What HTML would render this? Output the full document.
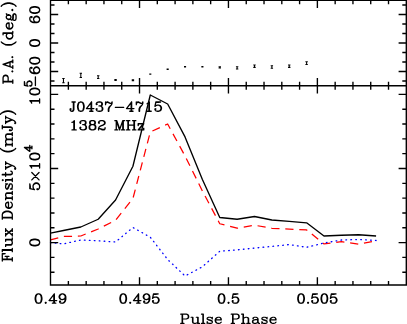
<!DOCTYPE html>
<html><head><meta charset="utf-8"><title>plot</title>
<style>html,body{margin:0;padding:0;background:#fff;overflow:hidden}body{width:407px;height:324px;font-family:"Liberation Serif",serif}</style></head>
<body>
<svg width="407" height="324" viewBox="0 0 407 324" style="display:block">
<title>J0437-4715 1382 MHz pulse profile</title>
<rect width="407" height="324" fill="#fff"/>
<g fill="none" stroke-linejoin="round">
<polyline points="50.50,233.11 63.45,230.50 80.82,227.00 98.19,219.25 115.56,200.00 132.93,166.25 150.29,95.00 167.66,104.00 185.03,136.90 202.40,179.50 219.77,217.50 237.13,219.25 254.50,216.50 271.87,220.00 289.24,221.40 306.61,222.80 323.97,236.00 341.34,235.25 358.71,234.75 376.08,236.00" stroke="#000" stroke-width="1.35"/>
<polyline points="50.50,239.86 63.45,236.50 80.82,236.00 98.19,229.00 115.56,220.20 132.93,198.50 150.29,132.00 167.66,124.00 185.03,156.00 202.40,191.00 219.77,223.75 237.13,228.20 254.50,225.20 271.87,228.30 289.24,229.20 306.61,229.90 323.97,243.90 341.34,241.70 358.71,244.10 376.08,240.75" stroke="#f00" stroke-width="1.25" stroke-dasharray="8.2 5.8" stroke-dashoffset="0.2"/>
<polyline points="50.50,242.71 63.45,243.90 80.82,240.00 98.19,240.80 115.56,242.00 132.93,227.50 150.29,237.20 167.66,259.50 185.03,276.00 202.40,266.80 219.77,251.20 237.13,249.90 254.50,248.10 271.87,246.40 289.24,244.60 306.61,247.30 323.97,243.00 341.34,240.00 358.71,239.50 376.08,240.50" stroke="#00f" stroke-width="1.3" stroke-linecap="round" stroke-dasharray="0.7 4.24" stroke-dashoffset="0.2"/>
</g>
<path d="M63.45 78.50V82.70 M62.25 78.50h2.4 M62.25 82.70h2.4 M80.82 73.30V77.40 M79.62 73.30h2.4 M79.62 77.40h2.4 M98.19 75.70V78.40 M96.99 75.70h2.4 M96.99 78.40h2.4 M115.56 79.50V80.50 M114.36 79.50h2.4 M114.36 80.50h2.4 M132.93 79.80V80.80 M131.73 79.80h2.4 M131.73 80.80h2.4 M150.29 73.95V74.25 M149.24 73.95h2.1 M149.24 74.25h2.1 M167.66 68.95V69.35 M166.61 68.95h2.1 M166.61 69.35h2.1 M185.03 66.40V67.00 M183.98 66.40h2.1 M183.98 67.00h2.1 M202.40 66.40V67.00 M201.35 66.40h2.1 M201.35 67.00h2.1 M219.77 66.80V68.00 M218.57 66.80h2.4 M218.57 68.00h2.4 M237.13 66.70V68.90 M235.93 66.70h2.4 M235.93 68.90h2.4 M254.50 65.05V67.35 M253.30 65.05h2.4 M253.30 67.35h2.4 M271.87 65.75V68.25 M270.67 65.75h2.4 M270.67 68.25h2.4 M289.24 65.05V67.35 M288.04 65.05h2.4 M288.04 67.35h2.4 M306.61 61.65V64.55 M305.41 61.65h2.4 M305.41 64.55h2.4" stroke="#000" stroke-width="1.05" fill="none"/>
<g stroke="#000" stroke-width="1.37" fill="none" stroke-linecap="butt">
<path d="M50.5 0.2H406.3V284.95H50.5Z M50.5 85.8H406.3"/>
<path d="M68.38 0.2v4.0 M68.38 81.8v8.0 M68.38 284.95v-4.0 M86.17 0.2v4.0 M86.17 81.8v8.0 M86.17 284.95v-4.0 M103.95 0.2v4.0 M103.95 81.8v8.0 M103.95 284.95v-4.0 M121.74 0.2v4.0 M121.74 81.8v8.0 M121.74 284.95v-4.0 M139.52 0.2v7.7 M139.52 78.1v15.4 M139.52 284.95v-7.7 M157.31 0.2v4.0 M157.31 81.8v8.0 M157.31 284.95v-4.0 M175.09 0.2v4.0 M175.09 81.8v8.0 M175.09 284.95v-4.0 M192.88 0.2v4.0 M192.88 81.8v8.0 M192.88 284.95v-4.0 M210.66 0.2v4.0 M210.66 81.8v8.0 M210.66 284.95v-4.0 M228.45 0.2v7.7 M228.45 78.1v15.4 M228.45 284.95v-7.7 M246.24 0.2v4.0 M246.24 81.8v8.0 M246.24 284.95v-4.0 M264.02 0.2v4.0 M264.02 81.8v8.0 M264.02 284.95v-4.0 M281.81 0.2v4.0 M281.81 81.8v8.0 M281.81 284.95v-4.0 M299.59 0.2v4.0 M299.59 81.8v8.0 M299.59 284.95v-4.0 M317.38 0.2v7.7 M317.38 78.1v15.4 M317.38 284.95v-7.7 M335.16 0.2v4.0 M335.16 81.8v8.0 M335.16 284.95v-4.0 M352.95 0.2v4.0 M352.95 81.8v8.0 M352.95 284.95v-4.0 M370.73 0.2v4.0 M370.73 81.8v8.0 M370.73 284.95v-4.0 M388.52 0.2v4.0 M388.52 81.8v8.0 M388.52 284.95v-4.0 M50.5 81.00h4.0 M406.3 81.00h-4.0 M50.5 71.50h7.7 M406.3 71.50h-7.7 M50.5 62.00h4.0 M406.3 62.00h-4.0 M50.5 52.50h4.0 M406.3 52.50h-4.0 M50.5 43.00h7.7 M406.3 43.00h-7.7 M50.5 33.50h4.0 M406.3 33.50h-4.0 M50.5 24.00h4.0 M406.3 24.00h-4.0 M50.5 14.50h7.7 M406.3 14.50h-7.7 M50.5 5.00h4.0 M406.3 5.00h-4.0 M50.5 272.24h4.0 M406.3 272.24h-4.0 M50.5 257.42h4.0 M406.3 257.42h-4.0 M50.5 242.60h7.7 M406.3 242.60h-7.7 M50.5 227.78h4.0 M406.3 227.78h-4.0 M50.5 212.96h4.0 M406.3 212.96h-4.0 M50.5 198.14h4.0 M406.3 198.14h-4.0 M50.5 183.32h4.0 M406.3 183.32h-4.0 M50.5 168.50h7.7 M406.3 168.50h-7.7 M50.5 153.68h4.0 M406.3 153.68h-4.0 M50.5 138.86h4.0 M406.3 138.86h-4.0 M50.5 124.04h4.0 M406.3 124.04h-4.0 M50.5 109.22h4.0 M406.3 109.22h-4.0 M50.5 94.40h7.7 M406.3 94.40h-7.7"/>
</g>
<g stroke="#000" fill="none" stroke-linecap="round" stroke-linejoin="round">
<g role="img" aria-label="0.49"><title>0.49</title><path d="M38.07 293.96L36.64 294.4L35.68 295.72L35.2 297.92L35.2 299.24L35.68 301.44L36.64 302.76L38.07 303.2L39.03 303.2L40.46 302.76L41.42 301.44L41.9 299.24L41.9 297.92L41.42 295.72L40.46 294.4L39.03 293.96L38.07 293.96M38.07 293.96L37.12 294.4L36.64 294.84L36.16 295.72L35.68 297.92L35.68 299.24L36.16 301.44L36.64 302.32L37.12 302.76L38.07 303.2M39.03 303.2L39.98 302.76L40.46 302.32L40.94 301.44L41.42 299.24L41.42 297.92L40.94 295.72L40.46 294.84L39.98 294.4L39.03 293.96M45.72 302.32L45.24 302.76L45.72 303.2L46.2 302.76L45.72 302.32M53.85 294.84L53.85 303.2M54.32 293.96L54.32 303.2M54.32 293.96L49.07 300.56L56.71 300.56M52.41 303.2L55.76 303.2M65.32 297.04L64.84 298.36L63.88 299.24L62.45 299.68L61.97 299.68L60.54 299.24L59.58 298.36L59.1 297.04L59.1 296.6L59.58 295.28L60.54 294.4L61.97 293.96L62.93 293.96L64.36 294.4L65.32 295.28L65.8 296.6L65.8 299.24L65.32 301L64.84 301.88L63.88 302.76L62.45 303.2L61.02 303.2L60.06 302.76L59.58 301.88L59.58 301.44L60.06 301L60.54 301.44L60.06 301.88M61.97 299.68L61.02 299.24L60.06 298.36L59.58 297.04L59.58 296.6L60.06 295.28L61.02 294.4L61.97 293.96M62.93 293.96L63.88 294.4L64.84 295.28L65.32 296.6L65.32 299.24L64.84 301L64.36 301.88L63.41 302.76L62.45 303.2" stroke-width="1.3"/></g>
<g role="img" aria-label="0.495"><title>0.495</title><path d="M122.75 293.96L121.35 294.4L120.42 295.72L119.95 297.92L119.95 299.24L120.42 301.44L121.35 302.76L122.75 303.2L123.68 303.2L125.08 302.76L126.01 301.44L126.48 299.24L126.48 297.92L126.01 295.72L125.08 294.4L123.68 293.96L122.75 293.96M122.75 293.96L121.82 294.4L121.35 294.84L120.88 295.72L120.42 297.92L120.42 299.24L120.88 301.44L121.35 302.32L121.82 302.76L122.75 303.2M123.68 303.2L124.61 302.76L125.08 302.32L125.54 301.44L126.01 299.24L126.01 297.92L125.54 295.72L125.08 294.84L124.61 294.4L123.68 293.96M130.2 302.32L129.74 302.76L130.2 303.2L130.67 302.76L130.2 302.32M138.13 294.84L138.13 303.2M138.59 293.96L138.59 303.2M138.59 293.96L133.47 300.56L140.92 300.56M136.73 303.2L139.99 303.2M149.31 297.04L148.84 298.36L147.91 299.24L146.51 299.68L146.05 299.68L144.65 299.24L143.72 298.36L143.25 297.04L143.25 296.6L143.72 295.28L144.65 294.4L146.05 293.96L146.98 293.96L148.38 294.4L149.31 295.28L149.78 296.6L149.78 299.24L149.31 301L148.84 301.88L147.91 302.76L146.51 303.2L145.12 303.2L144.18 302.76L143.72 301.88L143.72 301.44L144.18 301L144.65 301.44L144.18 301.88M146.05 299.68L145.12 299.24L144.18 298.36L143.72 297.04L143.72 296.6L144.18 295.28L145.12 294.4L146.05 293.96M146.98 293.96L147.91 294.4L148.84 295.28L149.31 296.6L149.31 299.24L148.84 301L148.38 301.88L147.45 302.76L146.51 303.2M153.5 293.96L152.57 298.36M152.57 298.36L153.5 297.48L154.9 297.04L156.3 297.04L157.7 297.48L158.63 298.36L159.1 299.68L159.1 300.56L158.63 301.88L157.7 302.76L156.3 303.2L154.9 303.2L153.5 302.76L153.04 302.32L152.57 301.44L152.57 301L153.04 300.56L153.5 301L153.04 301.44M156.3 297.04L157.23 297.48L158.16 298.36L158.63 299.68L158.63 300.56L158.16 301.88L157.23 302.76L156.3 303.2M153.5 293.96L158.16 293.96M153.5 294.4L155.83 294.4L158.16 293.96" stroke-width="1.3"/></g>
<g role="img" aria-label="0.5"><title>0.5</title><path d="M221.09 293.96L219.7 294.4L218.76 295.72L218.3 297.92L218.3 299.24L218.76 301.44L219.7 302.76L221.09 303.2L222.03 303.2L223.42 302.76L224.36 301.44L224.82 299.24L224.82 297.92L224.36 295.72L223.42 294.4L222.03 293.96L221.09 293.96M221.09 293.96L220.16 294.4L219.7 294.84L219.23 295.72L218.76 297.92L218.76 299.24L219.23 301.44L219.7 302.32L220.16 302.76L221.09 303.2M222.03 303.2L222.96 302.76L223.42 302.32L223.89 301.44L224.36 299.24L224.36 297.92L223.89 295.72L223.42 294.84L222.96 294.4L222.03 293.96M228.55 302.32L228.08 302.76L228.55 303.2L229.02 302.76L228.55 302.32M233.21 293.96L232.28 298.36M232.28 298.36L233.21 297.48L234.61 297.04L236.01 297.04L237.4 297.48L238.34 298.36L238.8 299.68L238.8 300.56L238.34 301.88L237.4 302.76L236.01 303.2L234.61 303.2L233.21 302.76L232.74 302.32L232.28 301.44L232.28 301L232.74 300.56L233.21 301L232.74 301.44M236.01 297.04L236.94 297.48L237.87 298.36L238.34 299.68L238.34 300.56L237.87 301.88L236.94 302.76L236.01 303.2M233.21 293.96L237.87 293.96M233.21 294.4L235.54 294.4L237.87 293.96" stroke-width="1.3"/></g>
<g role="img" aria-label="0.505"><title>0.505</title><path d="M300.6 293.96L299.2 294.4L298.27 295.72L297.8 297.92L297.8 299.24L298.27 301.44L299.2 302.76L300.6 303.2L301.53 303.2L302.93 302.76L303.86 301.44L304.33 299.24L304.33 297.92L303.86 295.72L302.93 294.4L301.53 293.96L300.6 293.96M300.6 293.96L299.67 294.4L299.2 294.84L298.74 295.72L298.27 297.92L298.27 299.24L298.74 301.44L299.2 302.32L299.67 302.76L300.6 303.2M301.53 303.2L302.46 302.76L302.93 302.32L303.4 301.44L303.86 299.24L303.86 297.92L303.4 295.72L302.93 294.84L302.46 294.4L301.53 293.96M308.06 302.32L307.59 302.76L308.06 303.2L308.52 302.76L308.06 302.32M312.72 293.96L311.78 298.36M311.78 298.36L312.72 297.48L314.11 297.04L315.51 297.04L316.91 297.48L317.84 298.36L318.31 299.68L318.31 300.56L317.84 301.88L316.91 302.76L315.51 303.2L314.11 303.2L312.72 302.76L312.25 302.32L311.78 301.44L311.78 301L312.25 300.56L312.72 301L312.25 301.44M315.51 297.04L316.44 297.48L317.38 298.36L317.84 299.68L317.84 300.56L317.38 301.88L316.44 302.76L315.51 303.2M312.72 293.96L317.38 293.96M312.72 294.4L315.05 294.4L317.38 293.96M323.9 293.96L322.5 294.4L321.57 295.72L321.1 297.92L321.1 299.24L321.57 301.44L322.5 302.76L323.9 303.2L324.83 303.2L326.23 302.76L327.16 301.44L327.63 299.24L327.63 297.92L327.16 295.72L326.23 294.4L324.83 293.96L323.9 293.96M323.9 293.96L322.97 294.4L322.5 294.84L322.04 295.72L321.57 297.92L321.57 299.24L322.04 301.44L322.5 302.32L322.97 302.76L323.9 303.2M324.83 303.2L325.76 302.76L326.23 302.32L326.7 301.44L327.16 299.24L327.16 297.92L326.7 295.72L326.23 294.84L325.76 294.4L324.83 293.96M331.36 293.96L330.42 298.36M330.42 298.36L331.36 297.48L332.75 297.04L334.15 297.04L335.55 297.48L336.48 298.36L336.95 299.68L336.95 300.56L336.48 301.88L335.55 302.76L334.15 303.2L332.75 303.2L331.36 302.76L330.89 302.32L330.42 301.44L330.42 301L330.89 300.56L331.36 301L330.89 301.44M334.15 297.04L335.08 297.48L336.02 298.36L336.48 299.68L336.48 300.56L336.02 301.88L335.08 302.76L334.15 303.2M331.36 293.96L336.02 293.96M331.36 294.4L333.69 294.4L336.02 293.96" stroke-width="1.3"/></g>
<g role="img" aria-label="Pulse Phase"><title>Pulse Phase</title><path d="M182.11 314.16L182.11 323.4M182.58 314.16L182.58 323.4M180.69 314.16L186.36 314.16L187.77 314.6L188.24 315.04L188.72 315.92L188.72 317.24L188.24 318.12L187.77 318.56L186.36 319L182.58 319M186.36 314.16L187.3 314.6L187.77 315.04L188.24 315.92L188.24 317.24L187.77 318.12L187.3 318.56L186.36 319M180.69 323.4L184 323.4M192.49 317.24L192.49 322.08L192.96 322.96L194.38 323.4L195.32 323.4L196.74 322.96L197.68 322.08M192.96 317.24L192.96 322.08L193.44 322.96L194.38 323.4M197.68 317.24L197.68 323.4M198.16 317.24L198.16 323.4M191.08 317.24L192.96 317.24M196.27 317.24L198.16 317.24M197.68 323.4L199.57 323.4M202.88 314.16L202.88 323.4M203.35 314.16L203.35 323.4M201.46 314.16L203.35 314.16M201.46 323.4L204.76 323.4M211.84 318.12L212.32 317.24L212.32 319L211.84 318.12L211.37 317.68L210.43 317.24L208.54 317.24L207.6 317.68L207.12 318.12L207.12 319L207.6 319.44L208.54 319.88L210.9 320.76L211.84 321.2L212.32 321.64M207.12 318.56L207.6 319L208.54 319.44L210.9 320.32L211.84 320.76L212.32 321.2L212.32 322.52L211.84 322.96L210.9 323.4L209.01 323.4L208.07 322.96L207.6 322.52L207.12 321.64L207.12 323.4L207.6 322.52M215.62 319.88L221.28 319.88L221.28 319L220.81 318.12L220.34 317.68L219.4 317.24L217.98 317.24L216.56 317.68L215.62 318.56L215.15 319.88L215.15 320.76L215.62 322.08L216.56 322.96L217.98 323.4L218.92 323.4L220.34 322.96L221.28 322.08M220.81 319.88L220.81 318.56L220.34 317.68M217.98 317.24L217.04 317.68L216.09 318.56L215.62 319.88L215.62 320.76L216.09 322.08L217.04 322.96L217.98 323.4M232.61 314.16L232.61 323.4M233.08 314.16L233.08 323.4M231.2 314.16L236.86 314.16L238.28 314.6L238.75 315.04L239.22 315.92L239.22 317.24L238.75 318.12L238.28 318.56L236.86 319L233.08 319M236.86 314.16L237.8 314.6L238.28 315.04L238.75 315.92L238.75 317.24L238.28 318.12L237.8 318.56L236.86 319M231.2 323.4L234.5 323.4M243 314.16L243 323.4M243.47 314.16L243.47 323.4M243.47 318.56L244.41 317.68L245.83 317.24L246.77 317.24L248.19 317.68L248.66 318.56L248.66 323.4M246.77 317.24L247.72 317.68L248.19 318.56L248.19 323.4M241.58 314.16L243.47 314.16M241.58 323.4L244.88 323.4M246.77 323.4L250.08 323.4M253.38 318.12L253.38 318.56L252.91 318.56L252.91 318.12L253.38 317.68L254.32 317.24L256.21 317.24L257.16 317.68L257.63 318.12L258.1 319L258.1 322.08L258.57 322.96L259.04 323.4M257.63 318.12L257.63 322.08L258.1 322.96L259.04 323.4L259.52 323.4M257.63 319L257.16 319.44L254.32 319.88L252.91 320.32L252.44 321.2L252.44 322.08L252.91 322.96L254.32 323.4L255.74 323.4L256.68 322.96L257.63 322.08M254.32 319.88L253.38 320.32L252.91 321.2L252.91 322.08L253.38 322.96L254.32 323.4M266.6 318.12L267.07 317.24L267.07 319L266.6 318.12L266.12 317.68L265.18 317.24L263.29 317.24L262.35 317.68L261.88 318.12L261.88 319L262.35 319.44L263.29 319.88L265.65 320.76L266.6 321.2L267.07 321.64M261.88 318.56L262.35 319L263.29 319.44L265.65 320.32L266.6 320.76L267.07 321.2L267.07 322.52L266.6 322.96L265.65 323.4L263.76 323.4L262.82 322.96L262.35 322.52L261.88 321.64L261.88 323.4L262.35 322.52M270.37 319.88L276.04 319.88L276.04 319L275.56 318.12L275.09 317.68L274.15 317.24L272.73 317.24L271.32 317.68L270.37 318.56L269.9 319.88L269.9 320.76L270.37 322.08L271.32 322.96L272.73 323.4L273.68 323.4L275.09 322.96L276.04 322.08M275.56 319.88L275.56 318.56L275.09 317.68M272.73 317.24L271.79 317.68L270.84 318.56L270.37 319.88L270.37 320.76L270.84 322.08L271.79 322.96L272.73 323.4" stroke-width="1.15"/></g>
<g role="img" aria-label="J0437−4715"><title>J0437−4715</title><path d="M73.86 102.01L73.86 109.49L73.39 110.81L72.46 111.25L71.53 111.25L70.6 110.81L70.13 109.93L70.13 109.05L70.6 108.61L71.06 109.05L70.6 109.49M73.39 102.01L73.39 109.49L72.93 110.81L72.46 111.25M72 102.01L75.26 102.01M80.38 102.01L78.99 102.45L78.05 103.77L77.59 105.97L77.59 107.29L78.05 109.49L78.99 110.81L80.38 111.25L81.32 111.25L82.71 110.81L83.65 109.49L84.11 107.29L84.11 105.97L83.65 103.77L82.71 102.45L81.32 102.01L80.38 102.01M80.38 102.01L79.45 102.45L78.99 102.89L78.52 103.77L78.05 105.97L78.05 107.29L78.52 109.49L78.99 110.37L79.45 110.81L80.38 111.25M81.32 111.25L82.25 110.81L82.71 110.37L83.18 109.49L83.65 107.29L83.65 105.97L83.18 103.77L82.71 102.89L82.25 102.45L81.32 102.01M91.1 102.89L91.1 111.25M91.57 102.01L91.57 111.25M91.57 102.01L86.44 108.61L93.9 108.61M89.7 111.25L92.97 111.25M96.69 103.77L97.16 104.21L96.69 104.65L96.23 104.21L96.23 103.77L96.69 102.89L97.16 102.45L98.56 102.01L100.42 102.01L101.82 102.45L102.29 103.33L102.29 104.65L101.82 105.53L100.42 105.97L99.02 105.97M100.42 102.01L101.35 102.45L101.82 103.33L101.82 104.65L101.35 105.53L100.42 105.97M100.42 105.97L101.35 106.41L102.29 107.29L102.75 108.17L102.75 109.49L102.29 110.37L101.82 110.81L100.42 111.25L98.56 111.25L97.16 110.81L96.69 110.37L96.23 109.49L96.23 109.05L96.69 108.61L97.16 109.05L96.69 109.49M101.82 106.85L102.29 108.17L102.29 109.49L101.82 110.37L101.35 110.81L100.42 111.25M105.55 102.01L105.55 104.65M105.55 103.77L106.01 102.89L106.95 102.01L107.88 102.01L110.21 103.33L111.14 103.33L111.61 102.89L112.07 102.01M106.01 102.89L106.95 102.45L107.88 102.45L110.21 103.33M112.07 102.01L112.07 103.33L111.61 104.65L109.74 106.85L109.28 107.73L108.81 109.05L108.81 111.25M111.61 104.65L109.28 106.85L108.81 107.73L108.34 109.05L108.34 111.25M115.33 107.29L123.72 107.29M131.18 102.89L131.18 111.25M131.64 102.01L131.64 111.25M131.64 102.01L126.52 108.61L133.97 108.61M129.78 111.25L133.04 111.25M136.3 102.01L136.3 104.65M136.3 103.77L136.77 102.89L137.7 102.01L138.63 102.01L140.96 103.33L141.9 103.33L142.36 102.89L142.83 102.01M136.77 102.89L137.7 102.45L138.63 102.45L140.96 103.33M142.83 102.01L142.83 103.33L142.36 104.65L140.5 106.85L140.03 107.73L139.57 109.05L139.57 111.25M142.36 104.65L140.03 106.85L139.57 107.73L139.1 109.05L139.1 111.25M147.02 103.77L147.95 103.33L149.35 102.01L149.35 111.25M148.89 102.45L148.89 111.25M147.02 111.25L151.22 111.25M155.88 102.01L154.94 106.41M154.94 106.41L155.88 105.53L157.27 105.09L158.67 105.09L160.07 105.53L161 106.41L161.47 107.73L161.47 108.61L161 109.93L160.07 110.81L158.67 111.25L157.27 111.25L155.88 110.81L155.41 110.37L154.94 109.49L154.94 109.05L155.41 108.61L155.88 109.05L155.41 109.49M158.67 105.09L159.6 105.53L160.54 106.41L161 107.73L161 108.61L160.54 109.93L159.6 110.81L158.67 111.25M155.88 102.01L160.54 102.01M155.88 102.45L158.21 102.45L160.54 102.01" stroke-width="1.3"/></g>
<g role="img" aria-label="1382 MHz"><title>1382 MHz</title><path d="M72 122.42L72.93 121.98L74.33 120.66L74.33 129.9M73.86 121.1L73.86 129.9M72 129.9L76.19 129.9M80.38 122.42L80.85 122.86L80.38 123.3L79.92 122.86L79.92 122.42L80.38 121.54L80.85 121.1L82.25 120.66L84.11 120.66L85.51 121.1L85.98 121.98L85.98 123.3L85.51 124.18L84.11 124.62L82.71 124.62M84.11 120.66L85.04 121.1L85.51 121.98L85.51 123.3L85.04 124.18L84.11 124.62M84.11 124.62L85.04 125.06L85.98 125.94L86.44 126.82L86.44 128.14L85.98 129.02L85.51 129.46L84.11 129.9L82.25 129.9L80.85 129.46L80.38 129.02L79.92 128.14L79.92 127.7L80.38 127.26L80.85 127.7L80.38 128.14M85.51 125.5L85.98 126.82L85.98 128.14L85.51 129.02L85.04 129.46L84.11 129.9M91.57 120.66L90.17 121.1L89.7 121.98L89.7 123.3L90.17 124.18L91.57 124.62L93.43 124.62L94.83 124.18L95.3 123.3L95.3 121.98L94.83 121.1L93.43 120.66L91.57 120.66M91.57 120.66L90.64 121.1L90.17 121.98L90.17 123.3L90.64 124.18L91.57 124.62M93.43 124.62L94.36 124.18L94.83 123.3L94.83 121.98L94.36 121.1L93.43 120.66M91.57 124.62L90.17 125.06L89.7 125.5L89.24 126.38L89.24 128.14L89.7 129.02L90.17 129.46L91.57 129.9L93.43 129.9L94.83 129.46L95.3 129.02L95.76 128.14L95.76 126.38L95.3 125.5L94.83 125.06L93.43 124.62M91.57 124.62L90.64 125.06L90.17 125.5L89.7 126.38L89.7 128.14L90.17 129.02L90.64 129.46L91.57 129.9M93.43 129.9L94.36 129.46L94.83 129.02L95.3 128.14L95.3 126.38L94.83 125.5L94.36 125.06L93.43 124.62M99.02 122.42L99.49 122.86L99.02 123.3L98.56 122.86L98.56 122.42L99.02 121.54L99.49 121.1L100.89 120.66L102.75 120.66L104.15 121.1L104.62 121.54L105.08 122.42L105.08 123.3L104.62 124.18L103.22 125.06L100.89 125.94L99.96 126.38L99.02 127.26L98.56 128.58L98.56 129.9M102.75 120.66L103.68 121.1L104.15 121.54L104.62 122.42L104.62 123.3L104.15 124.18L102.75 125.06L100.89 125.94M98.56 129.02L99.02 128.58L99.96 128.58L102.29 129.46L103.68 129.46L104.62 129.02L105.08 128.58M99.96 128.58L102.29 129.9L104.15 129.9L104.62 129.46L105.08 128.58L105.08 127.7M116.27 120.66L116.27 129.9M116.73 120.66L119.53 128.58M116.27 120.66L119.53 129.9M122.79 120.66L119.53 129.9M122.79 120.66L122.79 129.9M123.26 120.66L123.26 129.9M114.87 120.66L116.73 120.66M122.79 120.66L124.65 120.66M114.87 129.9L117.66 129.9M121.39 129.9L124.65 129.9M127.92 120.66L127.92 129.9M128.38 120.66L128.38 129.9M133.97 120.66L133.97 129.9M134.44 120.66L134.44 129.9M126.52 120.66L129.78 120.66M132.58 120.66L135.84 120.66M128.38 125.06L133.97 125.06M126.52 129.9L129.78 129.9M132.58 129.9L135.84 129.9M143.29 123.74L138.17 129.9M143.76 123.74L138.63 129.9M138.63 123.74L138.17 125.5L138.17 123.74L143.76 123.74M138.17 129.9L143.76 129.9L143.76 128.14L143.29 129.9" stroke-width="1.3"/></g>
<g role="img" aria-label="P.A. (deg.)"><title>P.A. (deg.)</title><path d="M3.06 81.87L12.8 81.87M3.06 81.39L12.8 81.39M3.06 83.3L3.06 77.59L3.52 76.16L3.98 75.68L4.91 75.21L6.3 75.21L7.23 75.68L7.7 76.16L8.16 77.59L8.16 81.39M3.06 77.59L3.52 76.63L3.98 76.16L4.91 75.68L6.3 75.68L7.23 76.16L7.7 76.63L8.16 77.59M12.8 83.3L12.8 79.97M11.87 71.4L12.34 71.87L12.8 71.4L12.34 70.92L11.87 71.4M3.06 64.26L12.8 67.59M3.06 64.26L12.8 60.93M4.45 64.26L12.8 61.4M10.02 66.64L10.02 62.35M12.8 68.54L12.8 65.69M12.8 62.83L12.8 59.97M11.87 57.12L12.34 57.59L12.8 57.12L12.34 56.64L11.87 57.12M1.2 41.89L2.13 42.84L3.52 43.79L5.38 44.74L7.7 45.22L9.55 45.22L11.87 44.74L13.73 43.79L15.12 42.84L16.05 41.89M2.13 42.84L3.98 43.79L5.38 44.27L7.7 44.74L9.55 44.74L11.87 44.27L13.26 43.79L15.12 42.84M3.06 33.32L12.8 33.32M3.06 32.84L12.8 32.84M7.7 33.32L6.77 34.27L6.3 35.22L6.3 36.17L6.77 37.6L7.7 38.55L9.09 39.03L10.02 39.03L11.41 38.55L12.34 37.6L12.8 36.17L12.8 35.22L12.34 34.27L11.41 33.32M6.3 36.17L6.77 37.13L7.7 38.08L9.09 38.55L10.02 38.55L11.41 38.08L12.34 37.13L12.8 36.17M3.06 34.75L3.06 32.84M12.8 33.32L12.8 31.41M9.09 28.56L9.09 22.85L8.16 22.85L7.23 23.32L6.77 23.8L6.3 24.75L6.3 26.18L6.77 27.61L7.7 28.56L9.09 29.03L10.02 29.03L11.41 28.56L12.34 27.61L12.8 26.18L12.8 25.23L12.34 23.8L11.41 22.85M9.09 23.32L7.7 23.32L6.77 23.8M6.3 26.18L6.77 27.13L7.7 28.08L9.09 28.56L10.02 28.56L11.41 28.08L12.34 27.13L12.8 26.18M6.3 17.61L6.77 18.56L7.23 19.04L8.16 19.51L9.09 19.51L10.02 19.04L10.48 18.56L10.94 17.61L10.94 16.66L10.48 15.71L10.02 15.23L9.09 14.75L8.16 14.75L7.23 15.23L6.77 15.71L6.3 16.66L6.3 17.61M6.77 18.56L7.7 19.04L9.55 19.04L10.48 18.56M10.48 15.71L9.55 15.23L7.7 15.23L6.77 15.71M7.23 15.23L6.77 14.75L6.3 13.8L6.77 13.8L6.77 14.75M10.02 19.04L10.48 19.51L11.41 19.99L11.87 19.99L12.8 19.51L13.26 18.09L13.26 15.71L13.73 14.28L14.19 13.8M11.87 19.99L12.34 19.51L12.8 18.09L12.8 15.71L13.26 14.28L14.19 13.8L14.66 13.8L15.58 14.28L16.05 15.71L16.05 18.56L15.58 19.99L14.66 20.47L14.19 20.47L13.26 19.99L12.8 18.56M11.87 9.99L12.34 10.47L12.8 9.99L12.34 9.52L11.87 9.99M1.2 6.19L2.13 5.23L3.52 4.28L5.38 3.33L7.7 2.85L9.55 2.85L11.87 3.33L13.73 4.28L15.12 5.23L16.05 6.19M2.13 5.23L3.98 4.28L5.38 3.81L7.7 3.33L9.55 3.33L11.87 3.81L13.26 4.28L15.12 5.23" stroke-width="1.3"/></g>
<g role="img" aria-label="Flux Density (mJy)"><title>Flux Density (mJy)</title><path d="M2.3 259.65L12.3 259.65M2.3 259.18L12.3 259.18M5.16 256.35L8.97 256.35M2.3 261.06L2.3 253.53L5.16 253.53L2.3 254M7.06 259.18L7.06 256.35M12.3 261.06L12.3 257.76M2.3 250.23L12.3 250.23M2.3 249.76L12.3 249.76M2.3 251.64L2.3 249.76M12.3 251.64L12.3 248.35M5.64 245.05L10.87 245.05L11.82 244.58L12.3 243.17L12.3 242.23L11.82 240.82L10.87 239.88M5.64 244.58L10.87 244.58L11.82 244.11L12.3 243.17M5.64 239.88L12.3 239.88M5.64 239.41L12.3 239.41M5.64 246.47L5.64 244.58M5.64 241.29L5.64 239.41M12.3 239.88L12.3 237.99M5.64 235.17L12.3 229.99M5.64 234.7L12.3 229.52M5.64 229.52L12.3 235.17M5.64 236.11L5.64 233.29M5.64 231.4L5.64 228.58M12.3 236.11L12.3 233.29M12.3 231.4L12.3 228.58M2.3 217.75L12.3 217.75M2.3 217.28L12.3 217.28M2.3 219.17L2.3 214.46L2.78 213.05L3.73 212.11L4.68 211.64L6.11 211.16L8.49 211.16L9.92 211.64L10.87 212.11L11.82 213.05L12.3 214.46L12.3 219.17M2.3 214.46L2.78 213.52L3.73 212.58L4.68 212.11L6.11 211.64L8.49 211.64L9.92 212.11L10.87 212.58L11.82 213.52L12.3 214.46M8.49 207.87L8.49 202.22L7.54 202.22L6.59 202.69L6.11 203.16L5.64 204.1L5.64 205.52L6.11 206.93L7.06 207.87L8.49 208.34L9.44 208.34L10.87 207.87L11.82 206.93L12.3 205.52L12.3 204.57L11.82 203.16L10.87 202.22M8.49 202.69L7.06 202.69L6.11 203.16M5.64 205.52L6.11 206.46L7.06 207.4L8.49 207.87L9.44 207.87L10.87 207.4L11.82 206.46L12.3 205.52M5.64 198.46L12.3 198.46M5.64 197.98L12.3 197.98M7.06 197.98L6.11 197.04L5.64 195.63L5.64 194.69L6.11 193.28L7.06 192.81L12.3 192.81M5.64 194.69L6.11 193.75L7.06 193.28L12.3 193.28M5.64 199.87L5.64 197.98M12.3 199.87L12.3 196.57M12.3 194.69L12.3 191.39M6.59 184.33L5.64 183.86L7.54 183.86L6.59 184.33L6.11 184.81L5.64 185.75L5.64 187.63L6.11 188.57L6.59 189.04L7.54 189.04L8.02 188.57L8.49 187.63L9.44 185.28L9.92 184.33L10.4 183.86M7.06 189.04L7.54 188.57L8.02 187.63L8.97 185.28L9.44 184.33L9.92 183.86L11.35 183.86L11.82 184.33L12.3 185.28L12.3 187.16L11.82 188.1L11.35 188.57L10.4 189.04L12.3 189.04L11.35 188.57M2.3 180.1L2.78 180.57L3.26 180.1L2.78 179.63L2.3 180.1M5.64 180.1L12.3 180.1M5.64 179.63L12.3 179.63M5.64 181.51L5.64 179.63M12.3 181.51L12.3 178.22M2.3 174.92L10.4 174.92L11.82 174.45L12.3 173.51L12.3 172.57L11.82 171.63L10.87 171.15M2.3 174.45L10.4 174.45L11.82 173.98L12.3 173.51M5.64 176.33L5.64 172.57M5.64 168.33L12.3 165.51M5.64 167.86L11.35 165.51M5.64 162.68L12.3 165.51L14.2 166.45L15.16 167.39L15.63 168.33L15.63 168.8L15.16 169.27L14.68 168.8L15.16 168.33M5.64 169.27L5.64 166.45M5.64 164.57L5.64 161.74M0.4 148.56L1.35 149.5L2.78 150.44L4.68 151.39L7.06 151.86L8.97 151.86L11.35 151.39L13.25 150.44L14.68 149.5L15.63 148.56M1.35 149.5L3.26 150.44L4.68 150.91L7.06 151.39L8.97 151.39L11.35 150.91L12.78 150.44L14.68 149.5M5.64 144.8L12.3 144.8M5.64 144.32L12.3 144.32M7.06 144.32L6.11 143.38L5.64 141.97L5.64 141.03L6.11 139.62L7.06 139.15L12.3 139.15M5.64 141.03L6.11 140.09L7.06 139.62L12.3 139.62M7.06 139.15L6.11 138.21L5.64 136.79L5.64 135.85L6.11 134.44L7.06 133.97L12.3 133.97M5.64 135.85L6.11 134.91L7.06 134.44L12.3 134.44M5.64 146.21L5.64 144.32M12.3 146.21L12.3 142.91M12.3 141.03L12.3 137.74M12.3 135.85L12.3 132.56M2.3 126.91L10.4 126.91L11.82 127.38L12.3 128.32L12.3 129.26L11.82 130.2L10.87 130.67L9.92 130.67L9.44 130.2L9.92 129.73L10.4 130.2M2.3 127.38L10.4 127.38L11.82 127.85L12.3 128.32M2.3 128.79L2.3 125.5M5.64 122.67L12.3 119.85M5.64 122.2L11.35 119.85M5.64 117.02L12.3 119.85L14.2 120.79L15.16 121.73L15.63 122.67L15.63 123.14L15.16 123.61L14.68 123.14L15.16 122.67M5.64 123.61L5.64 120.79M5.64 118.91L5.64 116.08M0.4 114.2L1.35 113.26L2.78 112.32L4.68 111.38L7.06 110.91L8.97 110.91L11.35 111.38L13.25 112.32L14.68 113.26L15.63 114.2M1.35 113.26L3.26 112.32L4.68 111.85L7.06 111.38L8.97 111.38L11.35 111.85L12.78 112.32L14.68 113.26" stroke-width="1.3"/></g>
<g role="img" aria-label="60"><title>60</title><path d="M31.23 17.06L31.7 17.53L32.16 17.06L31.7 16.59L31.23 16.59L30.3 17.06L29.84 18L29.84 19.42L30.3 20.84L31.23 21.78L32.16 22.25L34.02 22.72L36.81 22.72L38.2 22.25L39.13 21.31L39.6 19.89L39.6 18.95L39.13 17.53L38.2 16.59L36.81 16.12L36.34 16.12L34.95 16.59L34.02 17.53L33.55 18.95L33.55 19.42L34.02 20.84L34.95 21.78L36.34 22.25M29.84 19.42L30.3 20.36L31.23 21.31L32.16 21.78L34.02 22.25L36.81 22.25L38.2 21.78L39.13 20.84L39.6 19.89M39.6 18.95L39.13 18L38.2 17.06L36.81 16.59L36.34 16.59L34.95 17.06L34.02 18L33.55 18.95M29.84 10.45L30.3 11.87L31.7 12.81L34.02 13.28L35.41 13.28L37.74 12.81L39.13 11.87L39.6 10.45L39.6 9.51L39.13 8.09L37.74 7.15L35.41 6.68L34.02 6.68L31.7 7.15L30.3 8.09L29.84 9.51L29.84 10.45M29.84 10.45L30.3 11.4L30.77 11.87L31.7 12.34L34.02 12.81L35.41 12.81L37.74 12.34L38.67 11.87L39.13 11.4L39.6 10.45M39.6 9.51L39.13 8.56L38.67 8.09L37.74 7.62L35.41 7.15L34.02 7.15L31.7 7.62L30.77 8.09L30.3 8.56L29.84 9.51" stroke-width="1.3"/></g>
<g role="img" aria-label="0"><title>0</title><path d="M29.84 43.48L30.3 44.92L31.7 45.88L34.02 46.36L35.41 46.36L37.74 45.88L39.13 44.92L39.6 43.48L39.6 42.52L39.13 41.08L37.74 40.12L35.41 39.64L34.02 39.64L31.7 40.12L30.3 41.08L29.84 42.52L29.84 43.48M29.84 43.48L30.3 44.44L30.77 44.92L31.7 45.4L34.02 45.88L35.41 45.88L37.74 45.4L38.67 44.92L39.13 44.44L39.6 43.48M39.6 42.52L39.13 41.56L38.67 41.08L37.74 40.6L35.41 40.12L34.02 40.12L31.7 40.6L30.77 41.08L30.3 41.56L29.84 42.52" stroke-width="1.3"/></g>
<g role="img" aria-label="−60"><title>−60</title><path d="M35.41 85.62L35.41 76.98M31.23 67.86L31.7 68.34L32.16 67.86L31.7 67.38L31.23 67.38L30.3 67.86L29.84 68.82L29.84 70.26L30.3 71.7L31.23 72.66L32.16 73.14L34.02 73.62L36.81 73.62L38.2 73.14L39.13 72.18L39.6 70.74L39.6 69.78L39.13 68.34L38.2 67.38L36.81 66.9L36.34 66.9L34.95 67.38L34.02 68.34L33.55 69.78L33.55 70.26L34.02 71.7L34.95 72.66L36.34 73.14M29.84 70.26L30.3 71.22L31.23 72.18L32.16 72.66L34.02 73.14L36.81 73.14L38.2 72.66L39.13 71.7L39.6 70.74M39.6 69.78L39.13 68.82L38.2 67.86L36.81 67.38L36.34 67.38L34.95 67.86L34.02 68.82L33.55 69.78M29.84 61.14L30.3 62.58L31.7 63.54L34.02 64.02L35.41 64.02L37.74 63.54L39.13 62.58L39.6 61.14L39.6 60.18L39.13 58.74L37.74 57.78L35.41 57.3L34.02 57.3L31.7 57.78L30.3 58.74L29.84 60.18L29.84 61.14M29.84 61.14L30.3 62.1L30.77 62.58L31.7 63.06L34.02 63.54L35.41 63.54L37.74 63.06L38.67 62.58L39.13 62.1L39.6 61.14M39.6 60.18L39.13 59.22L38.67 58.74L37.74 58.26L35.41 57.78L34.02 57.78L31.7 58.26L30.77 58.74L30.3 59.22L29.84 60.18" stroke-width="1.3"/></g>
<g role="img" aria-label="0"><title>0</title><path d="M29.84 242.98L30.3 244.42L31.7 245.38L34.02 245.86L35.41 245.86L37.74 245.38L39.13 244.42L39.6 242.98L39.6 242.02L39.13 240.58L37.74 239.62L35.41 239.14L34.02 239.14L31.7 239.62L30.3 240.58L29.84 242.02L29.84 242.98M29.84 242.98L30.3 243.94L30.77 244.42L31.7 244.9L34.02 245.38L35.41 245.38L37.74 244.9L38.67 244.42L39.13 243.94L39.6 242.98M39.6 242.02L39.13 241.06L38.67 240.58L37.74 240.1L35.41 239.62L34.02 239.62L31.7 240.1L30.77 240.58L30.3 241.06L29.84 242.02" stroke-width="1.3"/></g>
<g role="img" aria-label="10^5"><title>10^5</title><path d="M31.7 103.12L31.23 102.16L29.84 100.72L39.6 100.72M30.3 101.2L39.6 101.2M39.6 103.12L39.6 98.8M29.84 92.08L30.3 93.52L31.7 94.48L34.02 94.96L35.41 94.96L37.74 94.48L39.13 93.52L39.6 92.08L39.6 91.12L39.13 89.68L37.74 88.72L35.41 88.24L34.02 88.24L31.7 88.72L30.3 89.68L29.84 91.12L29.84 92.08M29.84 92.08L30.3 93.04L30.77 93.52L31.7 94L34.02 94.48L35.41 94.48L37.74 94L38.67 93.52L39.13 93.04L39.6 92.08M39.6 91.12L39.13 90.16L38.67 89.68L37.74 89.2L35.41 88.72L34.02 88.72L31.7 89.2L30.77 89.68L30.3 90.16L29.84 91.12M24.41 85.43L27.99 86.17M27.99 86.17L27.27 85.43L26.91 84.32L26.91 83.21L27.27 82.11L27.99 81.37L29.06 81L29.78 81L30.85 81.37L31.57 82.11L31.93 83.21L31.93 84.32L31.57 85.43L31.21 85.8L30.5 86.17L30.14 86.17L29.78 85.8L30.14 85.43L30.5 85.8M26.91 83.21L27.27 82.48L27.99 81.74L29.06 81.37L29.78 81.37L30.85 81.74L31.57 82.48L31.93 83.21M24.41 85.43L24.41 81.74M24.77 85.43L24.77 83.58L24.41 81.74" stroke-width="1.3"/></g>
<g role="img" aria-label="5×10^4"><title>5×10^4</title><path d="M29.84 188.65L34.48 189.61M34.48 189.61L33.55 188.65L33.09 187.21L33.09 185.77L33.55 184.33L34.48 183.37L35.88 182.89L36.81 182.89L38.2 183.37L39.13 184.33L39.6 185.77L39.6 187.21L39.13 188.65L38.67 189.13L37.74 189.61L37.27 189.61L36.81 189.13L37.27 188.65L37.74 189.13M33.09 185.77L33.55 184.81L34.48 183.85L35.88 183.37L36.81 183.37L38.2 183.85L39.13 184.81L39.6 185.77M29.84 188.65L29.84 183.85M30.3 188.65L30.3 186.25L29.84 183.85M31.79 179.91L39.04 172.43M31.79 172.43L39.04 179.91M31.7 168.01L31.23 167.05L29.84 165.61L39.6 165.61M30.3 166.09L39.6 166.09M39.6 168.01L39.6 163.69M29.84 156.97L30.3 158.41L31.7 159.37L34.02 159.85L35.41 159.85L37.74 159.37L39.13 158.41L39.6 156.97L39.6 156.01L39.13 154.57L37.74 153.61L35.41 153.13L34.02 153.13L31.7 153.61L30.3 154.57L29.84 156.01L29.84 156.97M29.84 156.97L30.3 157.93L30.77 158.41L31.7 158.89L34.02 159.37L35.41 159.37L37.74 158.89L38.67 158.41L39.13 157.93L39.6 156.97M39.6 156.01L39.13 155.05L38.67 154.57L37.74 154.09L35.41 153.61L34.02 153.61L31.7 154.09L30.77 154.57L30.3 155.05L29.84 156.01M25.12 147.73L31.93 147.73M24.41 147.37L31.93 147.37M24.41 147.37L29.78 151.43L29.78 145.52M31.93 148.84L31.93 146.26" stroke-width="1.3"/></g>
</g>
</svg>
</body></html>
